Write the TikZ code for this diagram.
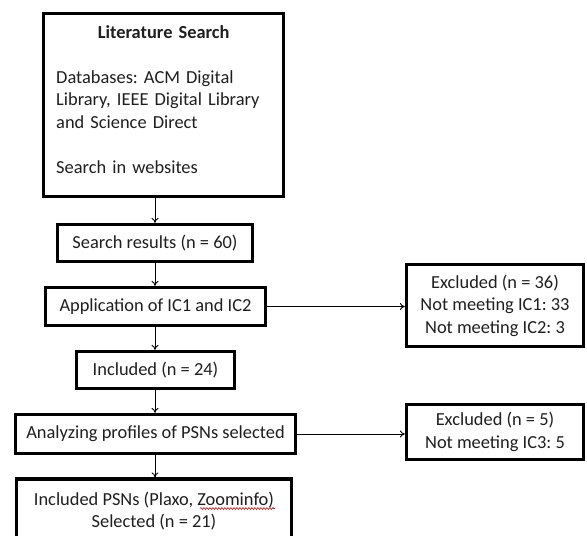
\documentclass[tikz,border=0pt]{standalone}
\usepackage{fontspec}
\setmainfont{Carlito}
\usetikzlibrary{arrows.meta,decorations.pathmorphing}
\begin{document}
\frenchspacing
\begin{tikzpicture}[x=1pt,y=-1pt,
  every node/.style={font=\fontsize{18.4}{22.5}\selectfont\frenchspacing, text=black!88},
  box/.style={draw=black, line width=3.2pt, inner sep=0pt, fill=white},
  txt/.style={inner sep=0pt, align=center},
  conn/.style={line width=0.9pt, -{To[length=5pt,width=7pt]}}]
\useasboundingbox (0,0) rectangle (587,536);
\clip (0,0) rectangle (587,536);
% boxes
\node[box, minimum width=240, minimum height=183] (lit) at (163.5,105) {};
\node[txt, anchor=base west, text width=215, align=left] (littxt) at (56,38)
  {\makebox[\linewidth][c]{\textbf{Literature Search}}\\[22.5pt]
   Databases: ACM Digital\\Library, IEEE Digital Library\\and Science Direct\\[22.5pt]
   Search in websites};
\node[box, minimum width=195, minimum height=37] (res) at (155,243) {Search results (n = 60)};
\node[box, minimum width=220, minimum height=38] (app) at (155.5,306.5) {Application of IC1 and IC2};
\node[box, minimum width=158, minimum height=37] (inc) at (155.5,370) {Included (n = 24)};
\node[box, minimum width=280, minimum height=39] (ana) at (155.5,434) {Analyzing profiles of PSNs selected};
\node[box, minimum width=275, minimum height=64, align=center] (psn) at (154,511)
  {Included PSNs (Plaxo, Zoominfo)\\Selected (n = 21)};
\node[box, minimum width=177, minimum height=82, align=center] (ex1) at (495,305.5)
  {Excluded (n = 36)\\Not meeting IC1: 33\\Not meeting IC2: 3};
\node[box, minimum width=177, minimum height=55, align=center] (ex2) at (495,432)
  {Excluded (n = 5)\\Not meeting IC3: 5};
% spell-check underline
\coordinate (sq1) at (200,508.5);
\coordinate (sq2) at (275,508.5);
\draw[red!85!black, line width=0.6pt, decorate, decoration={snake, amplitude=0.9pt, segment length=3pt}] (sq1) -- (sq2);
% connectors
\draw[conn] (res.north |- lit.south) -- (res.north);
\draw[conn] (res.south) -- (res.south |- app.north);
\draw[conn] (res.south |- app.south) -- (res.south |- inc.north);
\draw[conn] (res.south |- inc.south) -- (res.south |- ana.north);
\draw[conn] (res.south |- ana.south) -- (res.south |- psn.north);
\draw[conn] (app.east) -- (ex1.west |- app.east);
\draw[conn] (ana.east) -- (ex2.west |- ana.east);
\end{tikzpicture}
\end{document}
